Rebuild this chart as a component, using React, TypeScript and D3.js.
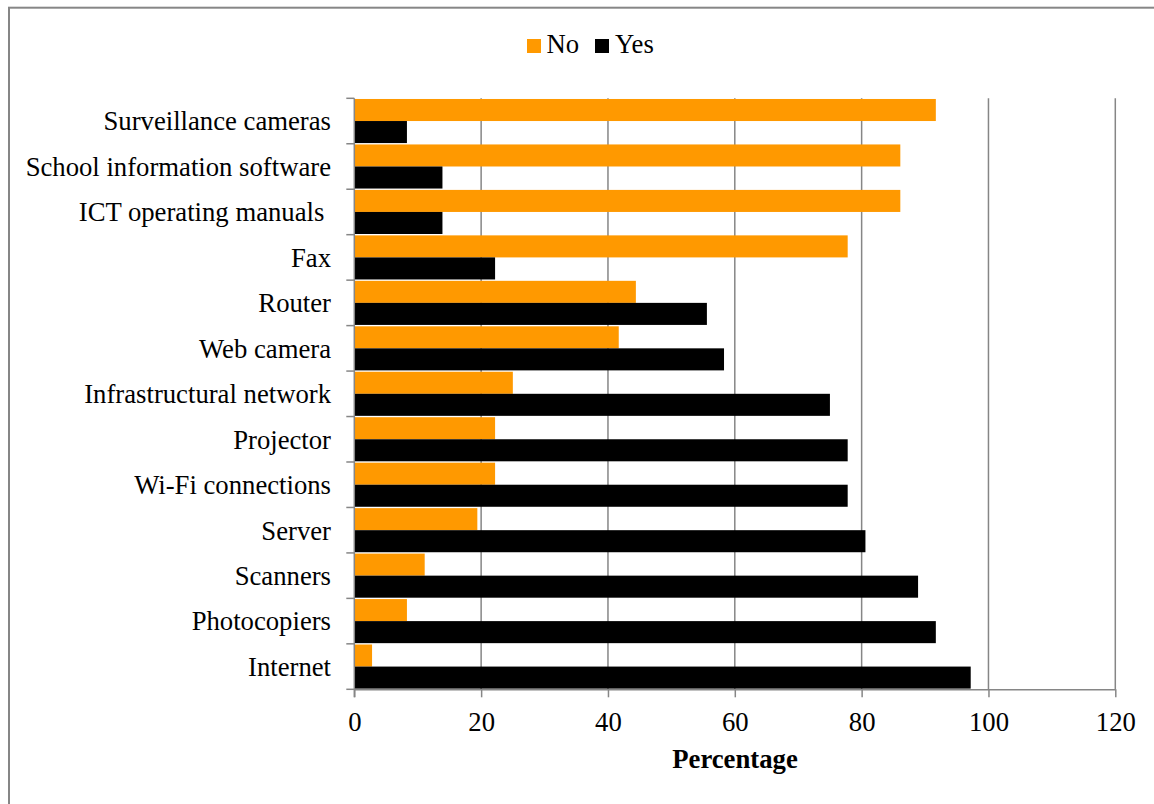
import React, { useEffect, useRef } from "react";
import * as d3 from "d3";

const categories = [
  "Surveillance cameras",
  "School information software",
  "ICT operating manuals ",
  "Fax",
  "Router",
  "Web camera",
  "Infrastructural network",
  "Projector",
  "Wi-Fi connections",
  "Server",
  "Scanners",
  "Photocopiers",
  "Internet",
];
const noValues = [91.7, 86.1, 86.1, 77.8, 44.4, 41.7, 25.0, 22.2, 22.2, 19.4, 11.1, 8.3, 2.8];
const yesValues = [8.3, 13.9, 13.9, 22.2, 55.6, 58.3, 75.0, 77.8, 77.8, 80.6, 88.9, 91.7, 97.2];
const seriesNames = ["No", "Yes"];
const seriesColors = ["#ff9900", "#000000"];
const xTicks = [0, 20, 40, 60, 80, 100, 120];
const xTitle = "Percentage";

export default function App() {
  const ref = useRef<SVGSVGElement>(null);

  useEffect(() => {
    const svg = d3.select(ref.current);
    svg.selectAll("*").remove();
    const font = "'Liberation Serif', 'Times New Roman', serif";
    const fs = 26.7;
    const grid = "#868686";

    const left = 354.3, right = 1115.3, top = 98.3, bottom = 689.3;
    const x = d3.scaleLinear().domain([0, 120]).range([left, right]);
    const y = d3.scaleBand<string>().domain(categories).range([top, bottom]).paddingInner(0.03).paddingOuter(0.015);
    const sub = d3.scaleBand<string>().domain(seriesNames).range([0, y.bandwidth()]).padding(0);

    // outer border
    svg.append("rect").attr("x", 9).attr("y", 7.7).attr("width", 1160).attr("height", 820)
      .attr("fill", "white").attr("stroke", grid).attr("stroke-width", 2);

    // gridlines
    svg.append("g").selectAll("line").data(xTicks.filter(t => t > 0)).join("line")
      .attr("x1", d => x(d)).attr("x2", d => x(d)).attr("y1", top).attr("y2", bottom)
      .attr("stroke", grid).attr("stroke-width", 1.5);

    // bars
    const series = [noValues, yesValues];
    series.forEach((vals, si) => {
      svg.append("g").selectAll("rect").data(categories).join("rect")
        .attr("x", x(0))
        .attr("y", c => (y(c) as number) + (sub(seriesNames[si]) as number))
        .attr("width", (c, i) => x(vals[i]) - x(0))
        .attr("height", sub.bandwidth())
        .attr("fill", seriesColors[si]);
    });

    // axes
    const xAxis = svg.append("g").attr("transform", `translate(0,${bottom})`)
      .call(d3.axisBottom(x).tickValues(xTicks).tickSize(8).tickSizeOuter(0).tickPadding(15));
    xAxis.select(".domain").attr("stroke", grid).attr("stroke-width", 1.5);
    xAxis.selectAll(".tick line").attr("stroke", grid).attr("stroke-width", 1.5);
    xAxis.selectAll("text").attr("font-family", font).attr("font-size", fs).attr("fill", "#000");

    // y axis line + boundary ticks
    const yAxis = svg.append("g");
    yAxis.append("line").attr("x1", left).attr("x2", left).attr("y1", top).attr("y2", bottom + 8)
      .attr("stroke", grid).attr("stroke-width", 1.5);
    const boundaries = d3.range(categories.length + 1).map(i => top + i * (bottom - top) / categories.length);
    yAxis.selectAll("line.tk").data(boundaries).join("line").attr("class", "tk")
      .attr("x1", left - 8).attr("x2", left).attr("y1", d => d).attr("y2", d => d)
      .attr("stroke", grid).attr("stroke-width", 1.5);
    yAxis.selectAll("text").data(categories).join("text")
      .attr("x", 331).attr("y", c => (y(c) as number) + y.bandwidth() / 2)
      .attr("dy", "0.35em").attr("text-anchor", "end")
      .attr("font-family", font).attr("font-size", fs).attr("fill", "#000")
      .style("white-space", "pre")
      .text(c => c);

    // x title
    svg.append("text").attr("x", 735).attr("y", 768).attr("text-anchor", "middle")
      .attr("font-family", font).attr("font-size", fs).attr("font-weight", "bold").text(xTitle);

    // legend
    const legendItems = [
      { name: seriesNames[0], color: seriesColors[0], sx: 527, tx: 546.5 },
      { name: seriesNames[1], color: seriesColors[1], sx: 595, tx: 615 },
    ];
    const lg = svg.append("g");
    lg.selectAll("rect").data(legendItems).join("rect")
      .attr("x", d => d.sx).attr("y", 39).attr("width", 14).attr("height", 14).attr("fill", d => d.color);
    lg.selectAll("text").data(legendItems).join("text")
      .attr("x", d => d.tx).attr("y", 53).attr("font-family", font).attr("font-size", fs).text(d => d.name);
  }, []);

  return (
    <svg ref={ref} width={1154} height={804}
      style={{ position: "fixed", left: 0, top: 0, background: "white" }} />
  );
}
